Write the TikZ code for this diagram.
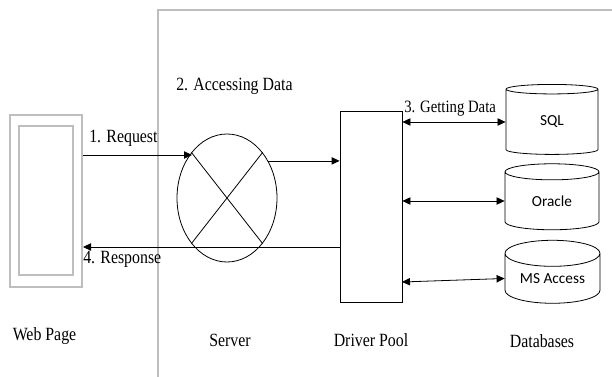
\documentclass[tikz,border=0pt]{standalone}
\usepackage{fontspec}
\setmainfont{Liberation Serif}[FakeStretch=0.85]
\newfontfamily\dbfont{Carlito}
\usetikzlibrary{arrows.meta,shapes.geometric}
\definecolor{framegray}{RGB}{190,190,190}
\tikzset{
  lbl/.style={inner sep=0.75pt,font=\fontsize{14}{16}\selectfont},
  pagebox/.style={draw=framegray,line width=0.9pt,inner sep=0pt},
  dpbox/.style={draw,line width=0.6pt,inner sep=0pt},
  dbcyl/.style={cylinder,shape border rotate=90,aspect=0.4,draw,line width=0.6pt,
    inner sep=0pt,font=\dbfont\fontsize{11.5}{13}\selectfont},
  flow/.style={line width=0.6pt,-{Triangle[length=6pt,width=5.5pt]}},
  both/.style={line width=0.6pt,{Triangle[length=6pt,width=5.5pt]}-{Triangle[length=6pt,width=5.5pt]}}
}
\begin{document}
\begin{tikzpicture}[x=0.75pt,y=0.75pt,yscale=-1,xscale=1]
	\useasboundingbox (0,0) rectangle (612,377);
	
	%Frame round the server side
	\draw [color=framegray,line width=0.9pt] (158,377) -- (158,10) -- (612,10) ;
	
	%Web page
	\node [pagebox,minimum width=54pt,minimum height=129pt] (wp) at (46,201) {};
	\node [pagebox,minimum width=40.5pt,minimum height=111.75pt] (wpin) at (46,200.5) {};
	
	%Server
	\node [ellipse,draw,line width=0.6pt,minimum width=75pt,minimum height=96pt,inner sep=0pt] (srv) at (227,198) {};
	\draw [line width=0.6pt] (srv.128) -- (srv.308) ;
	\draw [line width=0.6pt] (srv.52) -- (srv.232) ;
	
	%Driver pool
	\node [dpbox,minimum width=46.5pt,minimum height=143.25pt] (dp) at (371,206.5) {};
	
	%Databases
	\node [dbcyl,minimum width=69pt,minimum height=52.5pt] (sql) at (552,122) {SQL};
	\node [dbcyl,minimum width=70.5pt,minimum height=49.5pt] (ora) at (552,201) {Oracle};
	\node [dbcyl,minimum width=71.25pt,minimum height=47.25pt] (msa) at (552.5,278.5) {MS Access};
	
	%Connectors
	\coordinate (req) at (192,155);
	\coordinate (resp) at (83,247);
	\coordinate (msl) at (402,282);
	\draw [flow] (req -| wp.east) -- (req) ;
	\draw [flow] (srv.42) -- (srv.42 -| dp.west) ;
	\draw [flow] (resp -| dp.west) -- (resp) ;
	\draw [both] (dp.east |- sql.west) -- (sql.west) ;
	\draw [both] (dp.east |- ora.west) -- (ora.west) ;
	\draw [both] (msl) -- (msa.west) ;
	
	% Text Node
	\node [lbl,anchor=west] (treq) at (88,138) {1. Request};
	% Text Node
	\node [lbl,anchor=west] (tacc) at (175,86) {2. Accessing Data};
	% Text Node
	\node [lbl,anchor=west,font=\fontsize{13}{15}\selectfont] (tget) at (403,109) {3. Getting Data};
	% Text Node
	\node [lbl,anchor=west] (tresp) at (82,259) {4. Response};
	% Text Node
	\node [lbl] (twp) at (44.5,336) {Web Page};
	% Text Node
	\node [lbl] (tsrv) at (230,340) {Server};
	% Text Node
	\node [lbl] (tdp) at (371,340) {Driver Pool};
	% Text Node
	\node [lbl] (tdb) at (542,341) {Databases};
	
\end{tikzpicture}
\end{document}
